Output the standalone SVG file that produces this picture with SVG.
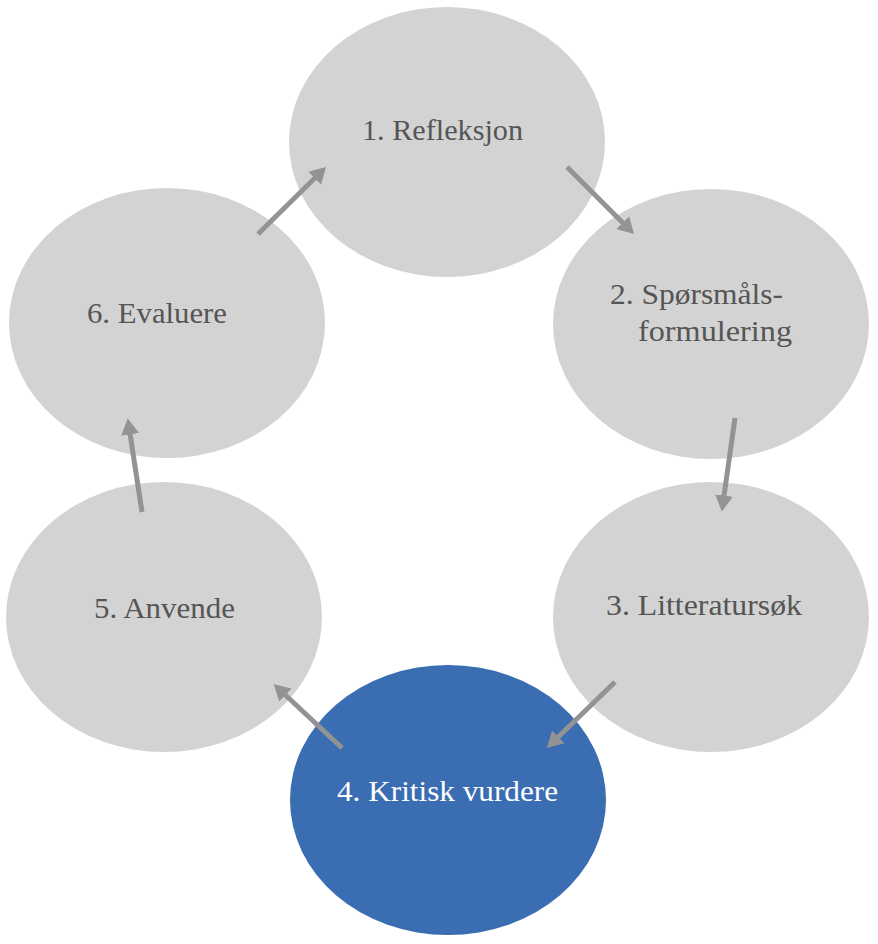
<svg xmlns="http://www.w3.org/2000/svg" width="878" height="944" viewBox="0 0 878 944">
<style>
.n{fill:#d3d3d3}
.b{fill:#3a6db2}
text{font-size:29px;fill:#555555}
.w{fill:#ffffff}
.c line{stroke:#939393;stroke-width:5;marker-end:url(#ah)}
</style>
<defs>
<marker id="ah" markerWidth="4" markerHeight="4" refX="1.5" refY="2" orient="auto" markerUnits="strokeWidth" viewBox="0 0 4 4">
<path d="M0,0.2 L3.2,2 L0,3.8 Z" fill="#939393"/>
</marker>
</defs>
<rect width="878" height="944" fill="#ffffff"/>
<g font-family="'Liberation Serif', 'Times New Roman', serif">
<g id="node1"><ellipse class="n" cx="447" cy="142" rx="158" ry="135"/><text x="362" y="140" textLength="161" lengthAdjust="spacingAndGlyphs">1. Refleksjon</text></g>
<g id="node2"><ellipse class="n" cx="711" cy="324" rx="158" ry="135"/><text x="610" y="304" textLength="173" lengthAdjust="spacingAndGlyphs">2. Spørsmåls-</text><text x="638" y="341" textLength="154" lengthAdjust="spacingAndGlyphs">formulering</text></g>
<g id="node3"><ellipse class="n" cx="711" cy="617" rx="158" ry="135"/><text x="606" y="615" textLength="196" lengthAdjust="spacingAndGlyphs">3. Litteratursøk</text></g>
<g id="node4"><ellipse class="b" cx="448" cy="800" rx="158" ry="135"/><text class="w" x="337" y="801" textLength="221" lengthAdjust="spacingAndGlyphs">4. Kritisk vurdere</text></g>
<g id="node5"><ellipse class="n" cx="164" cy="617" rx="158" ry="135"/><text x="94" y="618" textLength="141" lengthAdjust="spacingAndGlyphs">5. Anvende</text></g>
<g id="node6"><ellipse class="n" cx="167" cy="323" rx="158" ry="135"/><text x="87" y="323" textLength="140" lengthAdjust="spacingAndGlyphs">6. Evaluere</text></g>
</g>
<g id="connectors" class="c">
<line x1="567" y1="167" x2="628" y2="228"/>
<line x1="735" y1="418" x2="723" y2="503"/>
<line x1="615" y1="682" x2="553" y2="742"/>
<line x1="342" y1="748" x2="280" y2="690"/>
<line x1="142" y1="512" x2="129" y2="427"/>
<line x1="258" y1="234" x2="320" y2="173"/>
</g>
</svg>
